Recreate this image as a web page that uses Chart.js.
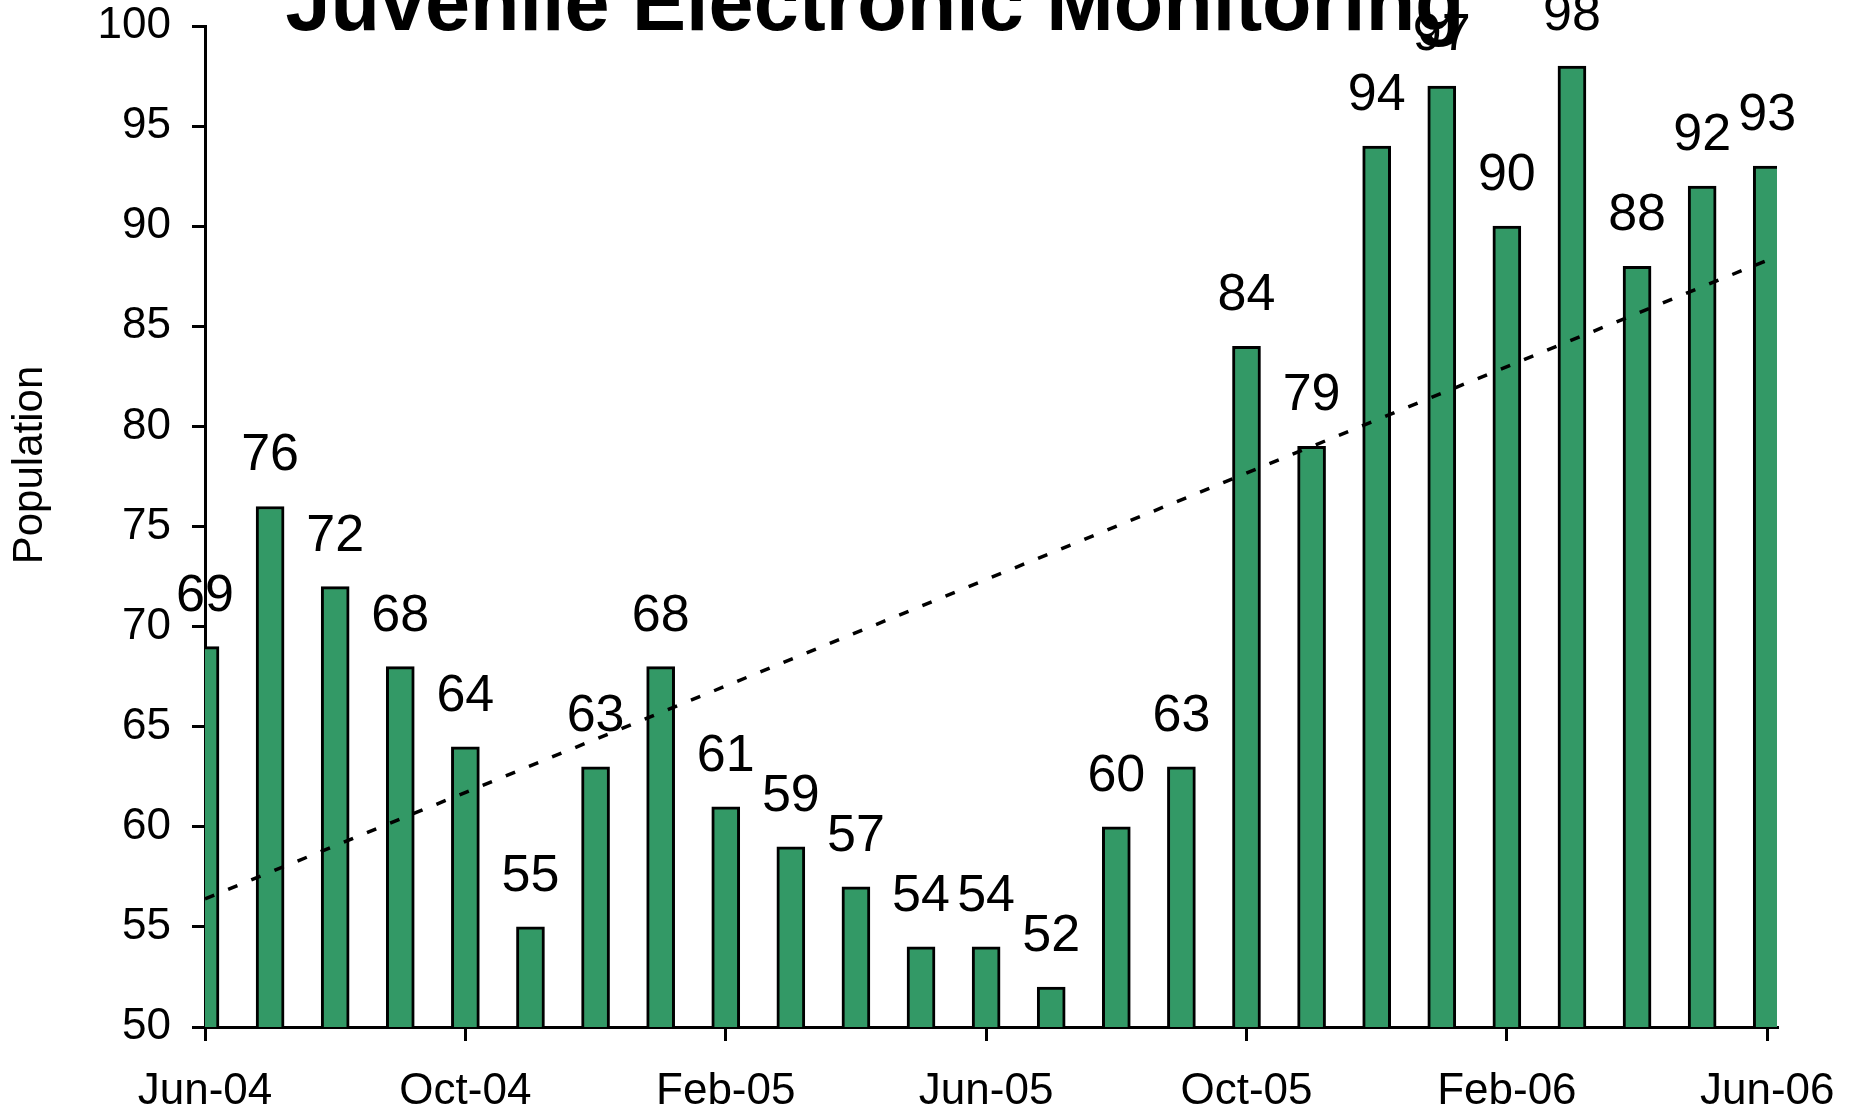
<!DOCTYPE html>
<html>
<head>
<meta charset="utf-8">
<title>Juvenile Electronic Monitoring</title>
<script src="https://cdn.jsdelivr.net/npm/chart.js@4.4.1/dist/chart.umd.min.js"></script>
<style>
  html, body { margin: 0; padding: 0; background: #fff; overflow: hidden; }
  canvas { display: block; }
</style>
</head>
<body>
<canvas id="monitoringChart" width="1854" height="1111"></canvas>
<script>
// Datos
const months = ['Jun-04', 'Jul-04', 'Aug-04', 'Sep-04', 'Oct-04', 'Nov-04', 'Dec-04',
    'Jan-05', 'Feb-05', 'Mar-05', 'Apr-05', 'May-05', 'Jun-05', 'Jul-05', 'Aug-05',
    'Sep-05', 'Oct-05', 'Nov-05', 'Dec-05', 'Jan-06', 'Feb-06', 'Mar-06', 'Apr-06',
    'May-06', 'Jun-06'];
const population = [69, 76, 72, 68, 64, 55, 63, 68, 61, 59, 57, 54, 54, 52, 60, 63,
    84, 79, 94, 97, 90, 98, 88, 92, 93];
// linea de tendencia (inicio y final)
const trendX = [0, 24.15];
const trendY = [56.4, 88.5];

const FONT = 'Arial, "Liberation Sans", sans-serif';
Chart.defaults.font.family = FONT;
Chart.defaults.color = '#000';

// Numeros encima de las barras
const barLabels = {
    id: 'barLabels',
    afterDatasetsDraw(chart) {
        const ctx = chart.ctx;
        const meta = chart.getDatasetMeta(1);
        ctx.save();
        ctx.font = '52px ' + FONT;
        ctx.fillStyle = '#000';
        ctx.textAlign = 'center';
        ctx.textBaseline = 'alphabetic';
        meta.data.forEach((bar, i) => {
            ctx.fillText(String(population[i]), bar.x, bar.y - 36);
        });
        ctx.restore();
    }
};

// Titulo y titulo del eje Y
const titles = {
    id: 'titles',
    afterDraw(chart) {
        const ctx = chart.ctx;
        ctx.save();
        ctx.fillStyle = '#000';
        ctx.textAlign = 'center';
        ctx.textBaseline = 'alphabetic';
        ctx.font = 'bold 81px ' + FONT;
        ctx.fillText('Juvenile Electronic Monitoring', 875, 30);

        ctx.translate(30, 465);
        ctx.rotate(-Math.PI / 2);
        ctx.textBaseline = 'middle';
        ctx.font = '42px ' + FONT;
        ctx.fillText('Population', 0, 0);
        ctx.restore();
    }
};

const ctxMonitoring = document.getElementById('monitoringChart').getContext('2d');
const monitoringChart = new Chart(ctxMonitoring, {
    type: 'bar',
    data: {
        datasets: [{
            type: 'line',
            label: 'Trend',
            data: trendX.map((x, i) => ({ x: x, y: trendY[i] })),
            borderColor: '#000',
            borderWidth: 3.5,
            borderDash: [10, 15],
            pointRadius: 0,
            fill: false,
            order: 0,
            clip: 0
        }, {
            label: 'Population',
            data: population.map((v, i) => ({ x: i, y: v })),
            backgroundColor: '#339966',
            borderColor: '#000',
            borderWidth: 3,
            borderSkipped: 'start',
            barThickness: 28,
            order: 1,
            clip: 0
        }]
    },
    options: {
        responsive: false,
        animation: false,
        layout: { padding: { top: 26, right: 77, left: 0, bottom: 0 } },
        plugins: {
            legend: { display: false },
            tooltip: { enabled: false },
            title: { display: false }
        },
        scales: {
            x: {
                type: 'linear',
                min: 0,
                max: 24.15,
                offset: false,
                border: { display: true, color: '#000', width: 3 },
                grid: { offset: false, drawOnChartArea: false, drawTicks: true, tickLength: 14, color: '#000', lineWidth: 3 },
                ticks: {
                    stepSize: 4,
                    includeBounds: false,
                    autoSkip: false,
                    maxRotation: 0,
                    padding: 24,
                    font: { size: 44 },
                    color: '#000',
                    callback: (value) => months[value]
                },
                afterFit: (scale) => {
                    scale.height = 84;
                    scale.paddingLeft = 0;
                    scale.paddingRight = 0;
                }
            },
            y: {
                min: 50,
                max: 100,
                border: { display: true, color: '#000', width: 3 },
                grid: { drawOnChartArea: false, drawTicks: true, tickLength: 13, color: '#000', lineWidth: 3 },
                ticks: {
                    stepSize: 5,
                    padding: 21,
                    font: { size: 44 },
                    color: '#000'
                },
                afterFit: (scale) => {
                    scale.width = 205;
                    scale.paddingTop = 0;
                    scale.paddingBottom = 0;
                }
            }
        }
    },
    plugins: [barLabels, titles]
});
</script>
</body>
</html>
